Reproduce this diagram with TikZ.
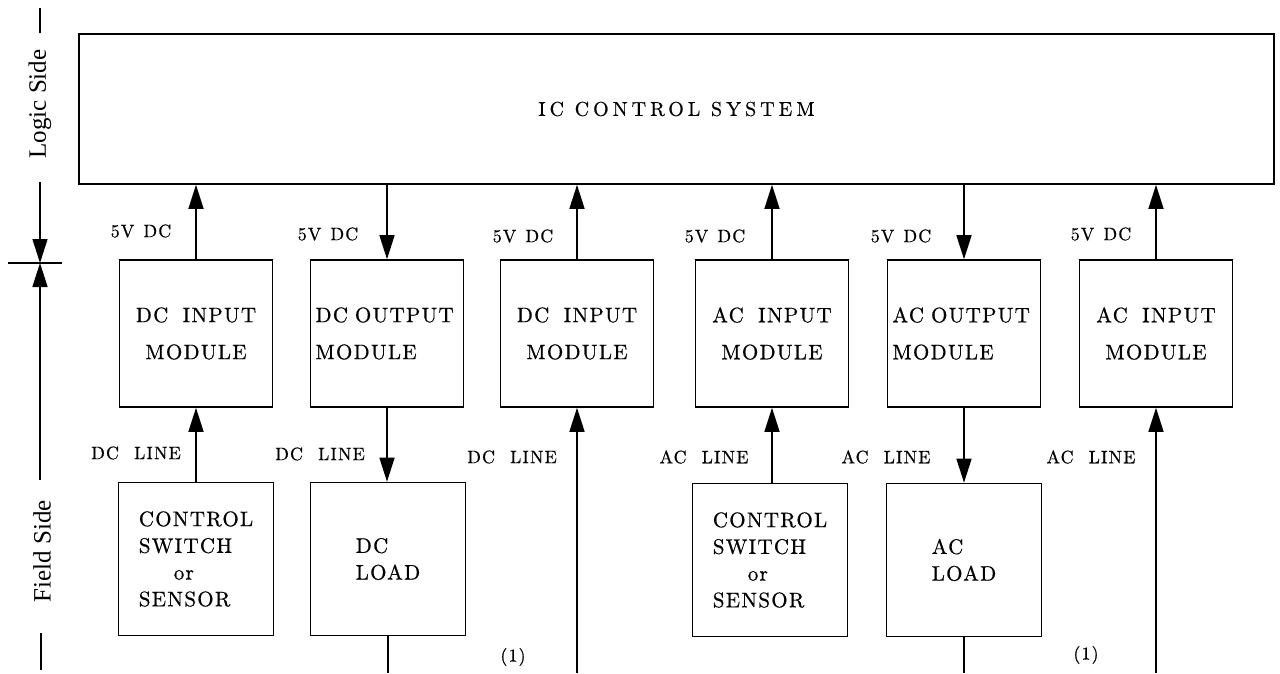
\documentclass[tikz,border=0pt]{standalone}
\usepackage{fontspec}
\newfontfamily\lab{lmroman10-regular}[Extension=.otf, LetterSpace=6, FakeBold=0.6]
\newfontfamily\icf{lmroman10-regular}[Extension=.otf, LetterSpace=20, FakeBold=0.4]
\newfontfamily\sidef{Liberation Serif}
\usetikzlibrary{arrows.meta}
\begin{document}
\begin{tikzpicture}[x=1pt,y=-1pt,
  frame/.style={draw, line width=1.6pt, inner sep=0pt},
  modbox/.style={frame, minimum width=153pt, minimum height=147pt,
    font=\lab\fontsize{21}{37}\selectfont, align=center},
  outbox/.style={frame, minimum width=153pt, minimum height=147pt, text width=143pt,
    inner xsep=5pt, font=\lab\fontsize{21}{37}\selectfont, align=left},
  fieldbox/.style={frame, minimum width=155pt, minimum height=153pt,
    font=\lab\fontsize{21}{26.7}\selectfont, align=left},
  lbl/.style={font=\lab\fontsize{18}{20}\selectfont, inner sep=0pt},
  side/.style={font=\sidef\fontsize{25}{25}\selectfont, rotate=90, inner sep=0pt},
  conn/.style={line width=1.5pt, -{Triangle[length=24pt,width=15pt]}},
  wire/.style={line width=1.5pt},
  tick/.style={line width=2.4pt}]
\useasboundingbox (0,0) rectangle (1280,673);

% control system
\node[frame, minimum width=1195pt, minimum height=150pt,
  font=\icf\fontsize{20}{20}\selectfont] (ic) at (676.5,109) {IC CONTROL SYSTEM};

% modules
\node[modbox] (m1) at (196,333.5) {DC\hspace{6pt} INPUT\\MODULE};
\node[outbox] (m2) at (387,333.5) {DC OUTPUT\\MODULE};
\node[modbox] (m3) at (577,333.5) {DC\hspace{6pt} INPUT\\MODULE};
\node[modbox] (m4) at (772,333.5) {AC\hspace{6pt} INPUT\\MODULE};
\node[outbox] (m5) at (964,333.5) {AC OUTPUT\\MODULE};
\node[modbox] (m6) at (1156,333.5) {AC\hspace{6pt} INPUT\\MODULE};

% field devices
\node[fieldbox] (c1) at (196,559) {CONTROL\\SWITCH\\\hspace*{35pt}or\\SENSOR};
\node[fieldbox] (l1) at (388,559) {DC\\LOAD};
\node[fieldbox] (c2) at (770,560) {CONTROL\\SWITCH\\\hspace*{35pt}or\\SENSOR};
\node[fieldbox] (l2) at (964,560) {AC\\LOAD};

% free ends at the bottom
\coordinate (b2) at (388,673);
\coordinate (b3) at (577,673);
\coordinate (b5) at (964,673);
\coordinate (b6) at (1156,673);

% connectors
\draw[conn] (m1.north) -- (m1.north |- ic.south);
\draw[conn] (c1.north -| m1.south) -- (m1.south);
\draw[conn] (ic.south -| m2.north) -- (m2.north);
\draw[conn] (m2.south) -- (m2.south |- l1.north);
\draw[wire] (l1.south) -- (b2);
\draw[conn] (m3.north) -- (m3.north |- ic.south);
\draw[conn] (b3) -- (m3.south);
\draw[conn] (m4.north) -- (m4.north |- ic.south);
\draw[conn] (c2.north -| m4.south) -- (m4.south);
\draw[conn] (ic.south -| m5.north) -- (m5.north);
\draw[conn] (m5.south) -- (m5.south |- l2.north);
\draw[wire] (l2.south) -- (b5);
\draw[conn] (m6.north) -- (m6.north |- ic.south);
\draw[conn] (b6) -- (m6.south);

% labels
\node[lbl] (v1) at (141,231) {5V\hspace{2pt} DC};
\node[lbl] (v2) at (328,234) {5V\hspace{2pt} DC};
\node[lbl] (v3) at (523,236) {5V\hspace{2pt} DC};
\node[lbl] (v4) at (715,236) {5V\hspace{2pt} DC};
\node[lbl] (v5) at (901,236) {5V\hspace{2pt} DC};
\node[lbl] (v6) at (1101,234) {5V\hspace{2pt} DC};
\node[lbl] (d1) at (136,453) {DC\hspace{8pt} LINE};
\node[lbl] (d2) at (320,454) {DC\hspace{8pt} LINE};
\node[lbl] (d3) at (512,457) {DC\hspace{8pt} LINE};
\node[lbl] (a4) at (704,457) {AC\hspace{8pt} LINE};
\node[lbl] (a5) at (886,457) {AC\hspace{8pt} LINE};
\node[lbl] (a6) at (1091,457) {AC\hspace{8pt} LINE};
\node[lbl] (n3) at (513,657) {(1)};
\node[lbl] (n6) at (1086,655) {(1)};

% side axis
\coordinate (ta) at (40,8);
\coordinate (tb) at (40,33);
\coordinate (la) at (40,182);
\coordinate (mid) at (40,263);
\coordinate (fa) at (40,480);
\coordinate (cl) at (8,263);
\coordinate (cr) at (62,263);
\coordinate (ba) at (41,633);
\coordinate (bb) at (41,670);
\draw[tick] (ta) -- (tb);
\node[side] (logic) at (40,104) {Logic Side};
\draw[conn] (la) -- (mid);
\draw[conn] (fa) -- (mid);
\draw[wire] (cl) -- (cr);
\node[side] (field) at (42,551) {Field Side};
\draw[tick] (ba) -- (bb);
\end{tikzpicture}
\end{document}
